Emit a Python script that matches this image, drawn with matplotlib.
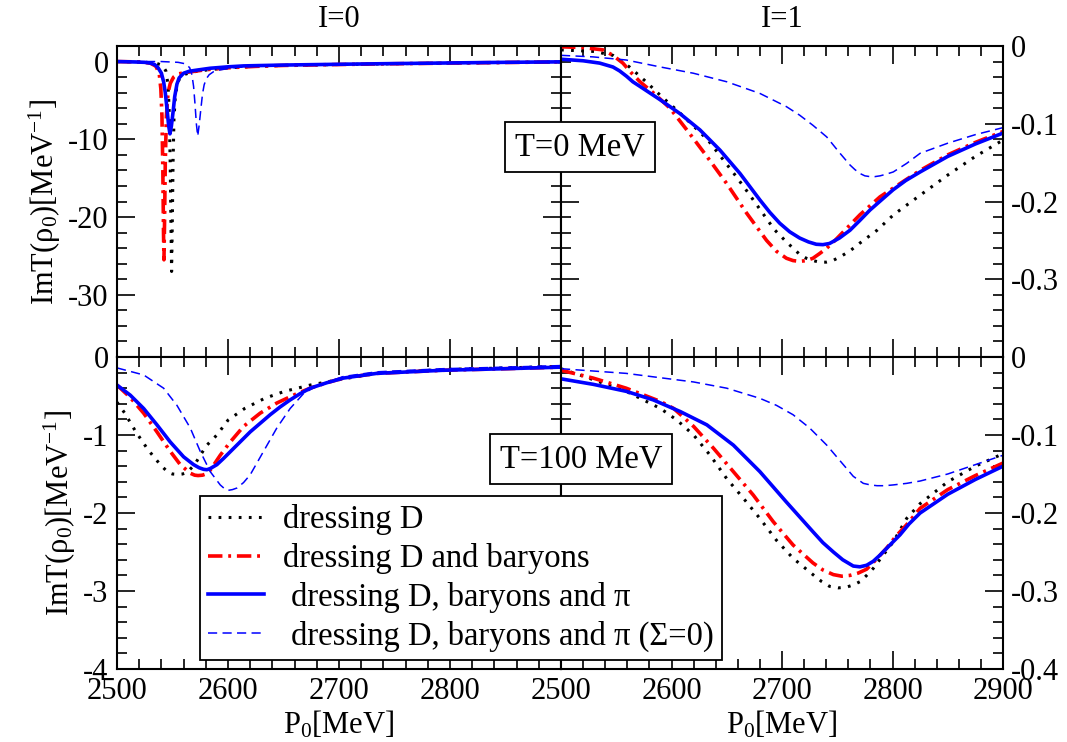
import matplotlib
matplotlib.use('Agg')
import matplotlib.pyplot as plt
from matplotlib.ticker import MultipleLocator
from matplotlib.lines import Line2D

plt.rcParams['font.family'] = ['Liberation Serif', 'DejaVu Serif']
plt.rcParams['mathtext.fontset'] = 'custom'
plt.rcParams['mathtext.rm'] = 'Liberation Serif'
plt.rcParams['mathtext.it'] = 'Liberation Serif:italic'
plt.rcParams['mathtext.default'] = 'regular'
plt.rcParams['axes.unicode_minus'] = False

# ---------------- data ----------------
# Top-left: I=0, T=0 MeV
tl_D_x = [2500, 2520, 2535, 2541, 2544, 2546, 2547.2, 2548, 2548.7, 2549.2, 2549.8, 2550.5, 2551.3, 2552.5, 2554.5, 2557, 2562, 2570, 2580, 2600, 2625, 2650, 2700, 2750, 2800, 2850, 2900]
tl_D_y = [0, -0.05, -0.2, -0.5, -1.2, -3, -7, -14, -22, -27, -21, -13, -7.5, -4.5, -2.8, -2.0, -1.6, -1.3, -1.1, -0.8, -0.62, -0.5, -0.38, -0.28, -0.2, -0.12, -0.05]
tl_B_x = [2500, 2520, 2530, 2535, 2538, 2539.5, 2540.5, 2541.3, 2541.9, 2542.3, 2542.8, 2543.5, 2544.5, 2546, 2548, 2551, 2555, 2560, 2570, 2580, 2600, 2625, 2650, 2700, 2750, 2800, 2850, 2900]
tl_B_y = [0, -0.05, -0.2, -0.6, -1.5, -3.5, -7, -14, -22, -25.5, -21, -13, -7, -4, -2.8, -2.0, -1.6, -1.45, -1.25, -1.05, -0.8, -0.62, -0.5, -0.38, -0.28, -0.2, -0.12, -0.05]
tl_P_x = [2500, 2515, 2525, 2530, 2534, 2537, 2540, 2542, 2543.5, 2545, 2546.5, 2547.7, 2549, 2550.5, 2552, 2554, 2556, 2560, 2565, 2572, 2584, 2600, 2614, 2650, 2700, 2750, 2800, 2850, 2900]
tl_P_y = [0, -0.05, -0.1, -0.2, -0.4, -0.8, -1.5, -2.6, -4, -6, -8.2, -9.3, -8.3, -6.5, -4.5, -2.9, -2.1, -1.5, -1.25, -1.1, -0.86, -0.68, -0.56, -0.45, -0.35, -0.26, -0.18, -0.1, -0.04]
tl_S_x = [2500, 2540, 2555, 2562, 2565.5, 2567.5, 2569, 2570.3, 2571.5, 2572.7, 2574, 2575.4, 2577, 2578.5, 2580.5, 2583, 2587, 2592, 2600, 2608, 2625, 2650, 2700, 2750, 2800, 2850, 2900]
tl_S_y = [0, 0, -0.1, -0.3, -0.8, -1.7, -3.2, -5.5, -8, -9.6, -8.2, -6.3, -4.2, -3, -2.2, -1.7, -1.3, -1.1, -0.9, -0.75, -0.6, -0.47, -0.35, -0.26, -0.18, -0.1, -0.04]

# Top-right: I=1, T=0 MeV
tr_D_x = [2500, 2530, 2547, 2562, 2577, 2591, 2606, 2620, 2633, 2645, 2657, 2669.5, 2681, 2693, 2704, 2716, 2722, 2728, 2734, 2740, 2746, 2754, 2762, 2770, 2786, 2801, 2823, 2850, 2875, 2900]
tr_D_y = [-0.005, -0.007, -0.012, -0.027, -0.046, -0.065, -0.084, -0.103, -0.121, -0.143, -0.165, -0.189, -0.212, -0.236, -0.252, -0.268, -0.273, -0.276, -0.278, -0.278, -0.276, -0.270, -0.263, -0.254, -0.237, -0.217, -0.194, -0.166, -0.142, -0.121]
tr_B_x = [2500, 2520, 2538, 2547, 2556, 2564, 2571.5, 2585, 2598.6, 2615, 2632, 2650, 2668, 2686, 2695, 2704, 2710, 2716, 2722, 2728, 2734, 2740.5, 2748, 2755.5, 2770.6, 2788.7, 2806.8, 2825, 2850, 2875, 2900]
tr_B_y = [-0.001, -0.002, -0.005, -0.012, -0.022, -0.035, -0.046, -0.062, -0.080, -0.110, -0.142, -0.177, -0.215, -0.250, -0.264, -0.273, -0.276, -0.277, -0.276, -0.273, -0.267, -0.260, -0.250, -0.239, -0.217, -0.194, -0.177, -0.160, -0.140, -0.124, -0.110]
tr_P_x = [2500, 2520, 2535, 2547, 2553, 2559.4, 2565, 2571.5, 2580, 2589.6, 2607.7, 2625.8, 2643.9, 2662, 2680, 2689, 2698, 2707, 2716, 2724, 2731, 2737, 2743, 2752, 2761.5, 2770, 2779.6, 2790, 2800.5, 2812, 2825, 2850, 2875, 2900]
tr_P_y = [-0.017, -0.019, -0.022, -0.027, -0.032, -0.039, -0.046, -0.052, -0.060, -0.069, -0.087, -0.108, -0.134, -0.164, -0.198, -0.214, -0.228, -0.239, -0.247, -0.252, -0.255, -0.2555, -0.254, -0.247, -0.237, -0.225, -0.211, -0.198, -0.185, -0.173, -0.162, -0.142, -0.126, -0.112]
tr_S_x = [2500, 2529, 2559, 2590, 2619.7, 2650, 2680, 2704, 2716, 2728, 2740.5, 2752.5, 2761.5, 2766, 2770.6, 2775, 2779.6, 2784, 2788.7, 2794, 2800.7, 2812.8, 2825, 2850, 2875, 2900]
tr_S_y = [-0.012, -0.014, -0.018, -0.027, -0.035, -0.046, -0.061, -0.078, -0.089, -0.102, -0.117, -0.138, -0.153, -0.159, -0.164, -0.167, -0.168, -0.168, -0.167, -0.165, -0.162, -0.151, -0.138, -0.125, -0.114, -0.105]

# Bottom-left: I=0, T=100 MeV
bl_D_x = [2500, 2507, 2517, 2528, 2539, 2546, 2550, 2555, 2559, 2563, 2570, 2575, 2581, 2590, 2600, 2615, 2633, 2651, 2674, 2689, 2704, 2734, 2794, 2850, 2900]
bl_D_y = [-0.58, -0.72, -0.96, -1.19, -1.38, -1.48, -1.50, -1.505, -1.50, -1.48, -1.38, -1.26, -1.13, -1.0, -0.81, -0.66, -0.53, -0.44, -0.36, -0.32, -0.28, -0.21, -0.16, -0.14, -0.12]
bl_B_x = [2500, 2512, 2524, 2536, 2548, 2557, 2566, 2570, 2573, 2577, 2580, 2584, 2593, 2602, 2614, 2629, 2644, 2662, 2674, 2689, 2704, 2734, 2794, 2850, 2900]
bl_B_y = [-0.36, -0.52, -0.72, -0.96, -1.21, -1.38, -1.49, -1.515, -1.52, -1.515, -1.50, -1.45, -1.26, -1.09, -0.89, -0.72, -0.59, -0.47, -0.40, -0.33, -0.27, -0.21, -0.17, -0.15, -0.13]
bl_P_x = [2500, 2512, 2524, 2536, 2548, 2560, 2569, 2574, 2578, 2581, 2584, 2590, 2596, 2608, 2620, 2629, 2638, 2647, 2656, 2665, 2674, 2689, 2704, 2734, 2794, 2850, 2900]
bl_P_y = [-0.36, -0.49, -0.66, -0.87, -1.09, -1.28, -1.38, -1.42, -1.44, -1.445, -1.43, -1.38, -1.30, -1.13, -0.96, -0.85, -0.74, -0.64, -0.55, -0.47, -0.40, -0.33, -0.27, -0.21, -0.17, -0.15, -0.13]
bl_S_x = [2500, 2524, 2542, 2554, 2566, 2575, 2584, 2593, 2597, 2600, 2604, 2608, 2614, 2620, 2632, 2644, 2656, 2668, 2680, 2704, 2734, 2794, 2850, 2900]
bl_S_y = [-0.14, -0.23, -0.40, -0.62, -0.91, -1.21, -1.47, -1.64, -1.69, -1.71, -1.70, -1.68, -1.61, -1.51, -1.21, -0.91, -0.66, -0.47, -0.37, -0.25, -0.19, -0.15, -0.13, -0.11]

# Bottom-right: I=1, T=100 MeV
br_D_x = [2500, 2529, 2559, 2590, 2605, 2620, 2635, 2650, 2665, 2680, 2695, 2710, 2728, 2736, 2743, 2751, 2758.5, 2765, 2770.6, 2776.6, 2782.6, 2791, 2800.7, 2812.8, 2825, 2850, 2875, 2900]
br_D_y = [-0.015, -0.029, -0.044, -0.066, -0.081, -0.100, -0.126, -0.156, -0.181, -0.207, -0.235, -0.258, -0.279, -0.288, -0.294, -0.296, -0.295, -0.292, -0.288, -0.280, -0.271, -0.255, -0.237, -0.207, -0.188, -0.160, -0.140, -0.124]
br_B_x = [2500, 2529, 2559, 2590, 2602, 2620, 2638, 2656, 2674, 2692, 2710, 2728, 2737, 2746.5, 2754, 2761.5, 2769, 2776.6, 2785, 2794.7, 2803, 2812.8, 2825, 2850, 2875, 2900]
br_B_y = [-0.017, -0.027, -0.040, -0.057, -0.066, -0.089, -0.117, -0.147, -0.177, -0.211, -0.241, -0.264, -0.273, -0.279, -0.281, -0.280, -0.277, -0.272, -0.260, -0.245, -0.230, -0.215, -0.194, -0.170, -0.152, -0.136]
br_P_x = [2500, 2529, 2559, 2583.5, 2608, 2632, 2656, 2680, 2704, 2728, 2737, 2746.5, 2755, 2764.5, 2770.5, 2776.6, 2782.5, 2788.7, 2797, 2806.8, 2815, 2825, 2850, 2875, 2900]
br_P_y = [-0.028, -0.035, -0.044, -0.055, -0.070, -0.087, -0.113, -0.147, -0.186, -0.224, -0.238, -0.250, -0.260, -0.268, -0.269, -0.267, -0.262, -0.254, -0.242, -0.228, -0.214, -0.200, -0.176, -0.157, -0.140]
br_S_x = [2500, 2559, 2620, 2650, 2680, 2695, 2710, 2725, 2740.5, 2755.5, 2764.5, 2773.6, 2780, 2786, 2793, 2800.7, 2812.8, 2825, 2850, 2875, 2900]
br_S_y = [-0.015, -0.021, -0.032, -0.040, -0.053, -0.062, -0.074, -0.091, -0.113, -0.138, -0.153, -0.162, -0.164, -0.165, -0.165, -0.164, -0.162, -0.159, -0.150, -0.138, -0.126]

legend_labels = ['dressing D', 'dressing D and baryons',
                 ' dressing D, baryons and π', ' dressing D, baryons and π (Σ=0)']
x_ticks = [2500, 2600, 2700, 2800, 2900]
tl_yticks = [0, -10, -20, -30]
bl_yticks = [0, -1, -2, -3, -4]
r_yticks = [0, -0.1, -0.2, -0.3, -0.4]

# ---------------- figure ----------------
W, H = 1067, 742
fig = plt.figure(figsize=(W / 100, H / 100), dpi=100)

def rect(x0, y0, x1, y1):
    return [x0 / W, 1 - y1 / H, (x1 - x0) / W, (y1 - y0) / H]

ax_tl = fig.add_axes(rect(117, 46, 561, 357))
ax_tr = fig.add_axes(rect(561, 46, 1003, 357))
ax_bl = fig.add_axes(rect(117, 357, 561, 669))
ax_br = fig.add_axes(rect(561, 357, 1003, 669))

styles = dict(
    D=dict(color='black', lw=2.2, linestyle=(0, (0.9, 2.4))),
    B=dict(color='#ff0000', lw=2.6, linestyle=(0, (4.0, 1.6, 0.8, 1.6))),
    P=dict(color='#0000ff', lw=2.6, linestyle='-'),
    S=dict(color='#0000ff', lw=1.1, linestyle=(0, (6, 3.5))),
)

panels = {
    ax_tl: [(tl_D_x, tl_D_y, 'D'), (tl_B_x, tl_B_y, 'B'), (tl_P_x, tl_P_y, 'P'), (tl_S_x, tl_S_y, 'S')],
    ax_tr: [(tr_D_x, tr_D_y, 'D'), (tr_B_x, tr_B_y, 'B'), (tr_P_x, tr_P_y, 'P'), (tr_S_x, tr_S_y, 'S')],
    ax_bl: [(bl_D_x, bl_D_y, 'D'), (bl_B_x, bl_B_y, 'B'), (bl_P_x, bl_P_y, 'P'), (bl_S_x, bl_S_y, 'S')],
    ax_br: [(br_D_x, br_D_y, 'D'), (br_B_x, br_B_y, 'B'), (br_P_x, br_P_y, 'P'), (br_S_x, br_S_y, 'S')],
}
for ax, series in panels.items():
    for xs, ys, key in series:
        ax.plot(xs, ys, solid_joinstyle='round', **styles[key])
    ax.set_xlim(2500, 2900)
    for sp in ax.spines.values():
        sp.set_linewidth(1.5)
    ax.xaxis.set_minor_locator(MultipleLocator(20))
    ax.tick_params(which='both', direction='in', top=True, bottom=True,
                   left=True, right=True, labelsize=22, width=1.2)
    ax.tick_params(which='major', length=13, pad=6)
    ax.tick_params(which='minor', length=7)
    ax.set_xticks(x_ticks)

# y ranges / ticks
ax_tl.set_ylim(-38, 2)
ax_tl.set_yticks(tl_yticks)
ax_tl.set_yticklabels([str(v) for v in tl_yticks])
ax_tl.yaxis.set_minor_locator(MultipleLocator(2))

ax_bl.set_ylim(-4, 0)
ax_bl.set_yticks(bl_yticks)
ax_bl.set_yticklabels([str(v) for v in bl_yticks])
ax_bl.yaxis.set_minor_locator(MultipleLocator(0.2))

for ax, lab_last in ((ax_tr, False), (ax_br, True)):
    ax.set_ylim(-0.4, 0)
    ax.set_yticks(r_yticks)
    labs = ['0' if v == 0 else ('%g' % v) for v in r_yticks]
    if not lab_last:
        labs[-1] = ''
    ax.set_yticklabels(labs)
    ax.yaxis.set_minor_locator(MultipleLocator(0.02))
    ax.tick_params(labelleft=False, labelright=True)

for ax in (ax_tl, ax_tr):
    ax.tick_params(labelbottom=False)
ax_bl.set_xticklabels([str(v) for v in x_ticks[:-1]] + [''])
ax_br.set_xticklabels([str(v) for v in x_ticks])

ax_tl.set_title('I=0', fontsize=22, pad=14)
ax_tr.set_title('I=1', fontsize=22, pad=14)
ylab = 'ImT(ρ$_0$)[MeV$^{-1}$]'
ax_tl.set_ylabel(ylab, fontsize=22, labelpad=4)
ax_bl.set_ylabel(ylab, fontsize=22, labelpad=4)
ax_bl.set_xlabel('P$_0$[MeV]', fontsize=22, labelpad=2)
ax_br.set_xlabel('P$_0$[MeV]', fontsize=22, labelpad=2)

box = dict(boxstyle='square,pad=0.3', facecolor='white', edgecolor='black', linewidth=1.3)
fig.text(580 / W, 1 - 147 / H, 'T=0 MeV', fontsize=23.5, ha='center', va='center', bbox=box)
fig.text(581 / W, 1 - 459 / H, 'T=100 MeV', fontsize=23.5, ha='center', va='center', bbox=box)

handles = [Line2D([], [], **styles[k]) for k in ('D', 'B', 'P', 'S')]
leg = fig.legend(handles, legend_labels, loc='upper left',
                 bbox_to_anchor=(200 / W, 1 - 496 / H), borderaxespad=0,
                 fontsize=23.5, frameon=True, fancybox=False, framealpha=1,
                 edgecolor='black', handlelength=1.7, handletextpad=0.6,
                 labelspacing=0.24, borderpad=0.25)
leg.get_frame().set_linewidth(1.3)

fig.savefig('out.png', dpi=100)
